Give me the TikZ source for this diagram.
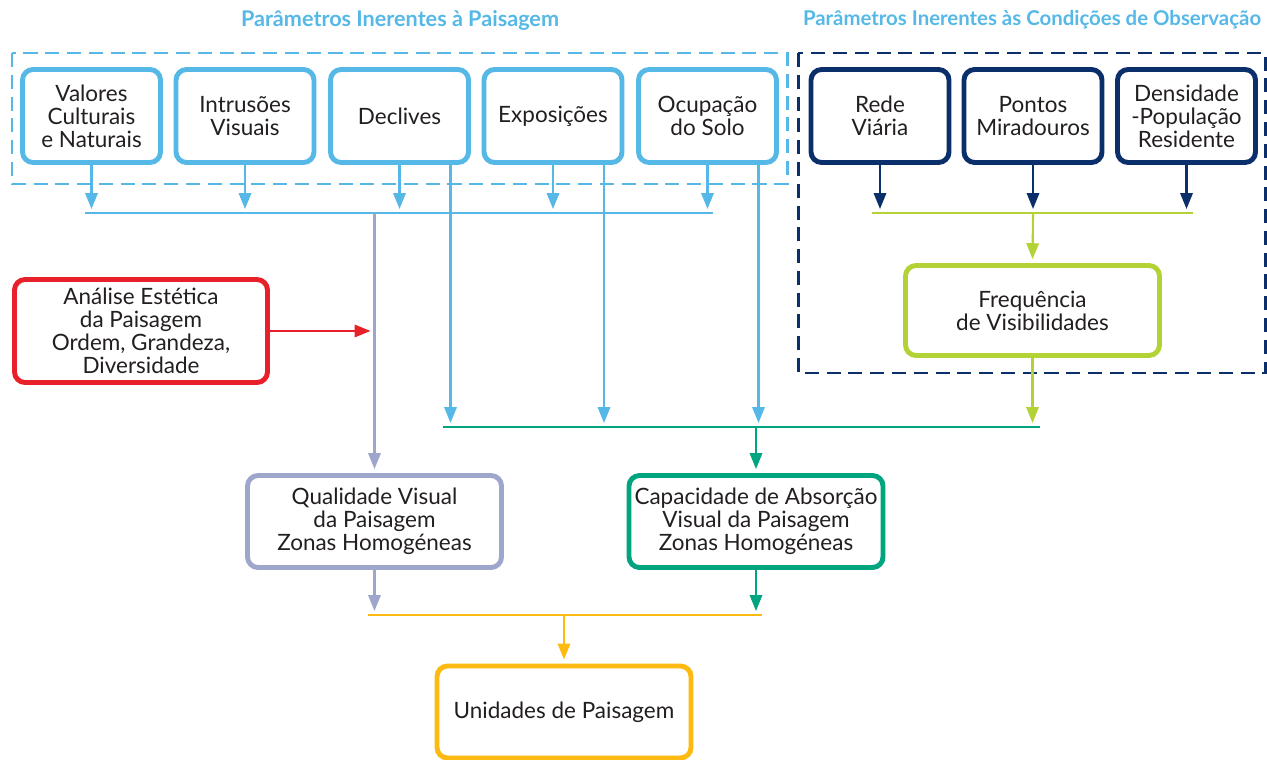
\documentclass[tikz,border=0pt]{standalone}
\usepackage{fontspec}
\setmainfont{Lato}
\usetikzlibrary{arrows.meta}
\definecolor{skyc}{HTML}{56B8E6}
\definecolor{navyc}{HTML}{0B2F6B}
\definecolor{redc}{HTML}{E8202A}
\definecolor{limec}{HTML}{B2D235}
\definecolor{tealc}{HTML}{00A57F}
\definecolor{lilac}{HTML}{9FA6CC}
\definecolor{goldc}{HTML}{FDBA12}
\definecolor{inkc}{HTML}{231F20}
\tikzset{
  box/.style={draw=#1, line width=2.8pt, rounded corners=6pt, fill=white,
    align=center, text=inkc, inner sep=1pt,
    font=\fontsize{12.8}{13}\selectfont},
  topbox/.style={box=#1, minimum width=138*0.02cm, minimum height=93*0.02cm},
  widebox/.style={box=#1, minimum width=254*0.02cm, minimum height=92*0.02cm},
  group/.style={draw=#1, dashed, line width=1.7pt, dash pattern=on 8pt off 4.4pt},
  feed/.style={draw=#1, line width=1.2pt, -{Triangle[length=9pt,width=7pt]}, shorten >=4*0.02cm},
  bus/.style={draw=#1, line width=1.3pt},
  heading/.style={text=skyc, inner sep=0pt, font=\bfseries\fontsize{#1}{14}\selectfont}
}
\begin{document}
\begin{tikzpicture}[x=0.02cm, y=-0.02cm]
\useasboundingbox (0,0) rectangle (1267,760);

% headings
\node[heading=12.3] (h1) at (400,20) {Parâmetros Inerentes à Paisagem};
\node[heading=11.6] (h2) at (1032,20) {Parâmetros Inerentes às Condições de Observação};

% dashed group frames
\draw[group=skyc] (12,53) rectangle (787,184);
\draw[group=navyc] (798,53) rectangle (1265,373);

% landscape parameters
\node[topbox=skyc] (v1) at (91.5,116) {Valores\\Culturais\\e Naturais};
\node[topbox=skyc] (v2) at (245,116) {Intrusões\\Visuais};
\node[topbox=skyc] (v3) at (399.5,116) {Declives};
\node[topbox=skyc] (v4) at (553,116) {Exposições};
\node[topbox=skyc] (v5) at (707.5,116) {Ocupação\\do Solo};

% observation parameters
\node[topbox=navyc] (o1) at (880,116) {Rede\\Viária};
\node[topbox=navyc] (o2) at (1033,116) {Pontos\\Miradouros};
\node[topbox=navyc] (o3) at (1186.5,116) {Densidade\\-População\\Residente};

\node[box=redc, minimum width=253*0.02cm, minimum height=103*0.02cm] (ae) at (141,331)
  {Análise Estética\\da Paisagem\\Ordem, Grandeza,\\Diversidade};
\node[box=limec, minimum width=254*0.02cm, minimum height=90*0.02cm] (fv) at (1032.5,310.5)
  {Frequência\\de Visibilidades};
\node[widebox=lilac] (qv) at (374.5,521.5) {Qualidade Visual\\da Paisagem\\Zonas Homogéneas};
\node[widebox=tealc] (ca) at (756,521.5) {Capacidade de Absorção\\Visual da Paisagem\\Zonas Homogéneas};
\node[widebox=goldc] (up) at (564,712) {Unidades de Paisagem};

% bus lines
\coordinate (b1w) at (85,213);   \coordinate (b1e) at (713,213);
\coordinate (b2w) at (872,213);  \coordinate (b2e) at (1193,213);
\coordinate (b3w) at (443,427);  \coordinate (b3e) at (1040,427);
\coordinate (b4w) at (368,615);  \coordinate (b4e) at (762,615);
\draw[bus=skyc] (b1w) -- (b1e);
\draw[bus=limec] (b2w) -- (b2e);
\draw[bus=tealc] (b3w) -- (b3e);
\draw[bus=goldc] (b4w) -- (b4e);

% landscape parameters into the first bus
\foreach \n in {v1,v2,v3,v4,v5}
  \draw[feed=skyc] (\n.south) -- (\n.south |- b1w);
% declives, exposições and ocupação straight down to the third bus
\foreach \n in {v3,v4,v5}
  \draw[feed=skyc] ([xshift=51*0.02cm]\n.south) -- ([xshift=51*0.02cm]\n.south |- b3w);

% observation parameters into the second bus
\foreach \n in {o1,o2,o3}
  \draw[feed=navyc] (\n.south) -- (\n.south |- b2w);
\draw[feed=limec] (o2.south |- b2w) -- (fv.north);
\draw[feed=limec] (fv.south) -- (fv.south |- b3w);

% towards the visual quality
\draw[feed=lilac] (qv.north |- b1w) -- (qv.north);
\draw[feed=redc] (ae.east) -- (ae.east -| qv.north);
\draw[feed=tealc] (ca.north |- b3w) -- (ca.north);

% towards the landscape units
\draw[feed=lilac] (qv.south) -- (qv.south |- b4w);
\draw[feed=tealc] (ca.south) -- (ca.south |- b4w);
\draw[feed=goldc] (up.north |- b4w) -- (up.north);
\end{tikzpicture}
\end{document}
